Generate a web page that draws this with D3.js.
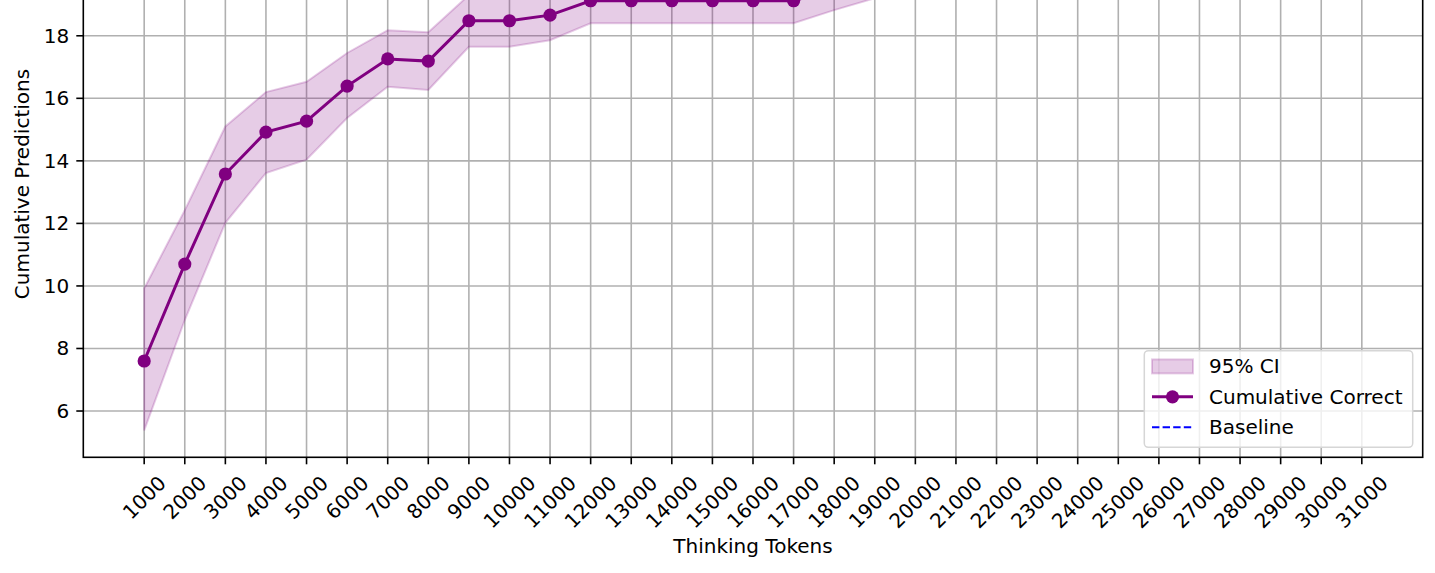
<!DOCTYPE html>
<html><head><meta charset="utf-8">
<script src="https://cdn.jsdelivr.net/npm/d3@7"></script>
<style>
body{margin:0;background:#fff}
svg{display:block}
text{font-family:"DejaVu Sans",sans-serif;fill:#000}
</style>
</head><body>
<svg id="chart" width="1435" height="573"></svg>
<script>
// ---- data ----
const tokens = [1000,2000,3000,4000,5000,6000,7000,8000,9000,10000,11000,12000,13000,14000,15000,16000,17000,18000,19000,20000,21000,22000,23000,24000,25000,26000,27000,28000,29000,30000,31000];
const cumulativeCorrect = [7.60,10.70,13.58,14.92,15.27,16.39,17.26,17.19,18.48,18.48,18.66,19.12,19.12,19.12,19.12,19.12,19.12,19.50,19.85,20.00,20.10,20.20,20.25,20.30,20.35,20.40,20.40,20.45,20.45,20.50,20.50];
const ciLower = [5.38,8.91,12.02,13.61,14.04,15.37,16.37,16.27,17.65,17.65,17.86,18.40,18.40,18.40,18.40,18.40,18.40,18.82,19.20,19.35,19.45,19.55,19.60,19.65,19.70,19.75,19.75,19.80,19.80,19.85,19.85];
const ciUpper = [9.92,12.42,15.10,16.20,16.53,17.45,18.18,18.11,19.30,19.30,19.45,19.85,19.85,19.85,19.85,19.85,19.85,20.20,20.50,20.65,20.75,20.85,20.90,20.95,21.00,21.05,21.05,21.10,21.10,21.15,21.15];
const baselineValue = 20.0;
const xTickLabels = tokens.map(String);
const yTickValues = [6,8,10,12,14,16,18];
const legendLabels = ["95% CI","Cumulative Correct","Baseline"];

// ---- layout ----
const FS = 20;
const mLeft = 83.3, mRight = 1422.7, mTop = -89.3, mBottom = 457.3;
const W = mRight - mLeft, H = mBottom - mTop;
const tickLen = 7, tickPad = 7;
const purple = "#800080";

const svg = d3.select("#chart");
const g = svg.append("g").attr("transform", `translate(${mLeft},${mTop})`);

const x = d3.scaleLinear().domain([-500, 32500]).range([0, W]);
const y = d3.scaleLinear().domain([4.52, 22.0]).range([H, 0]);

svg.append("defs").append("clipPath").attr("id","clip")
  .append("rect").attr("x",0).attr("y",0).attr("width",W).attr("height",H);

// grid
const grid = g.append("g");
grid.selectAll("line.vx").data(tokens).join("line")
  .attr("x1", d => x(d)).attr("x2", d => x(d)).attr("y1", 0).attr("y2", H)
  .attr("stroke", "#b0b0b0").attr("stroke-width", 1.6);
grid.selectAll("line.hy").data(yTickValues).join("line")
  .attr("x1", 0).attr("x2", W).attr("y1", d => y(d)).attr("y2", d => y(d))
  .attr("stroke", "#b0b0b0").attr("stroke-width", 1.6);

// data
const idx = d3.range(tokens.length);
const plot = g.append("g").attr("clip-path", "url(#clip)");
plot.append("path")
  .attr("d", d3.area().x(i => x(tokens[i])).y0(i => y(ciLower[i])).y1(i => y(ciUpper[i]))(idx))
  .attr("fill", purple).attr("fill-opacity", 0.2)
  .attr("stroke", purple).attr("stroke-opacity", 0.2).attr("stroke-width", 2);
plot.append("line")
  .attr("x1", 0).attr("x2", W).attr("y1", y(baselineValue)).attr("y2", y(baselineValue))
  .attr("stroke", "blue").attr("stroke-width", 2).attr("stroke-dasharray", "7.4,3.2");
plot.append("path")
  .attr("d", d3.line().x(i => x(tokens[i])).y(i => y(cumulativeCorrect[i]))(idx))
  .attr("fill", "none").attr("stroke", purple).attr("stroke-width", 3);
plot.selectAll("circle").data(idx).join("circle")
  .attr("cx", i => x(tokens[i])).attr("cy", i => y(cumulativeCorrect[i])).attr("r", 6.6)
  .attr("fill", purple);

// spines
g.append("rect").attr("x",0).attr("y",0).attr("width",W).attr("height",H)
  .attr("fill","none").attr("stroke","#000").attr("stroke-width",1.6);

// x axis ticks
const xt = g.append("g");
tokens.forEach((t, i) => {
  const px = x(t);
  xt.append("line").attr("x1", px).attr("x2", px).attr("y1", H).attr("y2", H + tickLen)
    .attr("stroke", "#000").attr("stroke-width", 1.6);
  const txt = xt.append("text").text(xTickLabels[i]).attr("font-size", FS)
    .attr("text-anchor", "middle").attr("dominant-baseline", "central");
  const w = txt.node().getComputedTextLength();
  const h = FS * 1.17;
  const bh = (w + h) * Math.SQRT1_2;
  txt.attr("transform", `translate(${px},${H + tickLen + tickPad + bh / 2}) rotate(-45)`);
});

// y axis ticks
const yt = g.append("g");
yTickValues.forEach(v => {
  const py = y(v);
  yt.append("line").attr("x1", -tickLen).attr("x2", 0).attr("y1", py).attr("y2", py)
    .attr("stroke", "#000").attr("stroke-width", 1.6);
  yt.append("text").text(v).attr("font-size", FS).attr("text-anchor", "end")
    .attr("dominant-baseline", "central")
    .attr("x", -tickLen - tickPad).attr("y", py);
});

// axis labels
svg.append("text").text("Thinking Tokens").attr("font-size", FS)
  .attr("text-anchor", "middle").attr("x", (mLeft + mRight) / 2).attr("y", 553);
svg.append("text").text("Cumulative Predictions").attr("font-size", FS)
  .attr("text-anchor", "middle")
  .attr("transform", `translate(29,${(mTop + mBottom) / 2}) rotate(-90)`);

// legend
const lg = svg.append("g");
lg.append("rect").attr("x", 1144.3).attr("y", 350.7).attr("width", 1412.7 - 1144.3).attr("height", 447.3 - 350.7)
  .attr("rx", 4).attr("fill", "#fff").attr("fill-opacity", 0.8)
  .attr("stroke", "#d6d6d6").attr("stroke-width", 1.5);
const rowY = [366.4, 396.8, 427.3];
const hx0 = 1152, hx1 = 1193;
lg.append("rect").attr("x", hx0).attr("y", rowY[0] - 7).attr("width", hx1 - hx0).attr("height", 14)
  .attr("fill", purple).attr("fill-opacity", 0.2).attr("stroke", purple).attr("stroke-opacity", 0.2).attr("stroke-width", 2);
lg.append("line").attr("x1", hx0).attr("x2", hx1).attr("y1", rowY[1]).attr("y2", rowY[1])
  .attr("stroke", purple).attr("stroke-width", 3);
lg.append("circle").attr("cx", (hx0 + hx1) / 2).attr("cy", rowY[1]).attr("r", 6.6).attr("fill", purple);
lg.append("line").attr("x1", hx0).attr("x2", hx1).attr("y1", rowY[2]).attr("y2", rowY[2])
  .attr("stroke", "blue").attr("stroke-width", 2).attr("stroke-dasharray", "7.4,3.2");
legendLabels.forEach((l, i) => {
  lg.append("text").text(l).attr("font-size", FS).attr("x", 1209)
    .attr("y", rowY[i]).attr("dominant-baseline", "central");
});
</script>
</body></html>
